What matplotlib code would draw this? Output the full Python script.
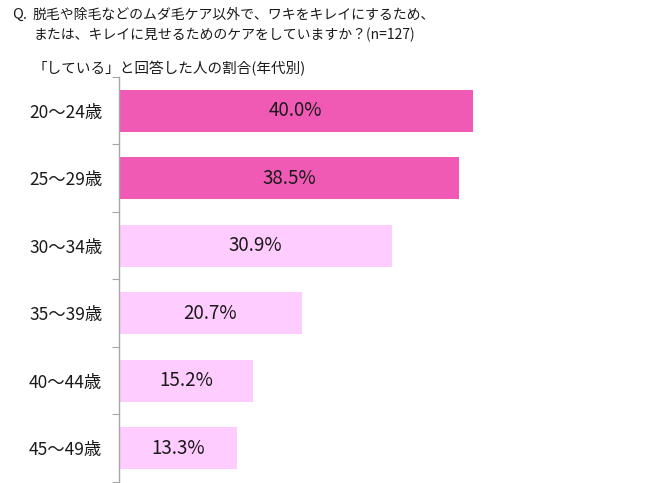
import matplotlib
matplotlib.use('Agg')
import matplotlib.pyplot as plt

plt.rcParams['font.family'] = ['Noto Sans CJK JP', 'DejaVu Sans']

# データ
ages = ['20～24歳', '25～29歳', '30～34歳', '35～39歳', '40～44歳', '45～49歳']
values = [40.0, 38.5, 30.9, 20.7, 15.2, 13.3]
highlight = [True, True, False, False, False, False]

DARK_PINK = '#F059B4'
LIGHT_PINK = '#FFCCFF'
TEXT = '#1a1a1a'
AXIS_GREY = '#A6A6A6'

fig = plt.figure(figsize=(6.5, 4.83), dpi=100)
# 軸: x=119px〜, y=77px〜482px
ax = fig.add_axes([119 / 650, 1 - 482 / 483, 442 / 650, 405 / 483])

ypos = list(range(len(ages)))
colors = [DARK_PINK if h else LIGHT_PINK for h in highlight]
ax.barh(ypos, values, height=0.62, color=colors, edgecolor='none')
ax.set_ylim(len(ages) - 0.5, -0.5)
ax.set_xlim(0, 50)

for y, v in zip(ypos, values):
    ax.text(v / 2, y, f'{v:.1f}%', ha='center', va='center',
            fontsize=13.5, color=TEXT)

for s in ['top', 'right', 'bottom']:
    ax.spines[s].set_visible(False)
ax.spines['left'].set_color(AXIS_GREY)
ax.spines['left'].set_linewidth(1)
ax.set_xticks([])
ax.set_yticks([y - 0.5 for y in ypos] + [len(ages) - 0.5])
ax.set_yticklabels([])
ax.set_yticks(ypos, minor=True)
ax.set_yticklabels(ages, minor=True, fontsize=12.5, color=TEXT)
ax.tick_params(axis='y', which='major', length=5, color=AXIS_GREY, direction='out')
ax.tick_params(axis='y', which='minor', length=0, pad=12)

fig.text(12 / 650, 1 - 15 / 483, 'Q.', fontsize=10.5, color=TEXT, va='center')
fig.text(33 / 650, 1 - 15 / 483, '脱毛や除毛などのムダ毛ケア以外で、ワキをキレイにするため、',
         fontsize=10, color=TEXT, va='center')
fig.text(33 / 650, 1 - 35 / 483, 'または、キレイに見せるためのケアをしていますか？(n=127)',
         fontsize=10, color=TEXT, va='center')
fig.text(33 / 650, 1 - 69 / 483, '「している」と回答した人の割合(年代別)',
         fontsize=10.5, color=TEXT, va='center')

fig.savefig('out.png', dpi=100, facecolor='white')
